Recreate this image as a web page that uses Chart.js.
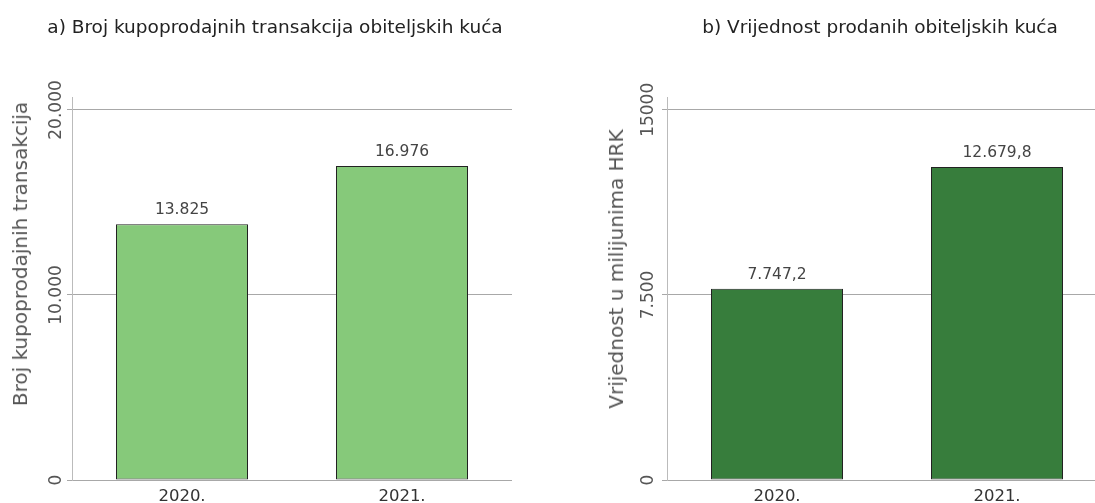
<!DOCTYPE html>
<html>
<head>
<meta charset="utf-8">
<script src="https://cdn.jsdelivr.net/npm/chart.js@4.4.1/dist/chart.umd.min.js"></script>
<style>
  html, body { margin: 0; padding: 0; background: #fff; width: 1095px; height: 503px; overflow: hidden; position: relative; }
  .box { position: absolute; top: 0; height: 520px; }
  .heading { position: absolute; top: 16px; font: 18.5px "DejaVu Sans", sans-serif; color: #222; white-space: nowrap; transform: translateX(-50%); }
  .ytitle { position: absolute; font: 20px "DejaVu Sans", sans-serif; color: #555; white-space: nowrap; transform: translate(-50%, -50%) rotate(-90deg); }
</style>
</head>
<body>
<div class="box" style="left:0;width:548px"><canvas id="countChart"></canvas></div>
<div class="box" style="left:548px;width:580px"><canvas id="valueChart"></canvas></div>
<div class="heading" style="left:275px">a) Broj kupoprodajnih transakcija obiteljskih kuća</div>
<div class="heading" style="left:880px">b) Vrijednost prodanih obiteljskih kuća</div>
<div class="ytitle" style="left:20px;top:254px">Broj kupoprodajnih transakcija</div>
<div class="ytitle" style="left:616px;top:269px">Vrijednost u milijunima HRK</div>
<script>
const years = ['2020.', '2021.'];
const transactions = [13825, 16976];
const valuesHrk = [7747.2, 12679.8];
const countTicks = [0, 10000, 20000];
const countTickLabels = ['0', '10.000', '20.000'];
const valueTicks = [0, 7500, 15000];
const valueTickLabels = ['0', '7.500', '15000'];

function formatHr(v, decimals) {
    const parts = v.toFixed(decimals).split('.');
    parts[0] = parts[0].replace(/\B(?=(\d{3})+(?!\d))/g, '.');
    return parts.join(',');
}

const barLabels = {
    id: 'barLabels',
    afterDatasetsDraw(chart, args, opts) {
        const ctx = chart.ctx;
        const meta = chart.getDatasetMeta(0);
        ctx.save();
        ctx.font = '15.5px "DejaVu Sans", sans-serif';
        ctx.fillStyle = '#444';
        ctx.textAlign = 'center';
        ctx.textBaseline = 'bottom';
        meta.data.forEach((bar, i) => {
            const v = chart.data.datasets[0].data[i];
            ctx.fillText(formatHr(v, opts.decimals), bar.x, bar.y - 6);
        });
        ctx.restore();
    }
};

function makeChart(el, data, color, maxVal, ticks, tickLabels, axisWidth, padRight, tickPad, decimals) {
    return new Chart(el, {
        type: 'bar',
        data: {
            labels: years,
            datasets: [{
                data: data,
                backgroundColor: color,
                borderColor: '#222',
                borderWidth: 1,
                borderSkipped: false,
                categoryPercentage: 1,
                barPercentage: 0.6
            }]
        },
        plugins: [barLabels],
        options: {
            responsive: true,
            maintainAspectRatio: false,
            animation: false,
            layout: { padding: { top: 97, right: padRight, left: 0, bottom: 0 } },
            plugins: {
                legend: { display: false },
                tooltip: { enabled: false },
                barLabels: { decimals: decimals }
            },
            scales: {
                x: {
                    grid: { display: false },
                    border: { display: false },
                    ticks: { color: '#333', font: { family: 'DejaVu Sans', size: 16.5 }, padding: -1 },
                    afterFit(scale) { scale.height = 40; }
                },
                y: {
                    min: 0,
                    max: maxVal,
                    afterBuildTicks(scale) { scale.ticks = ticks.map(v => ({ value: v })); },
                    afterFit(scale) { scale.width = axisWidth; },
                    grid: { color: '#a8a8a8', tickLength: 5 },
                    border: { color: '#bbb' },
                    ticks: {
                        minRotation: 90,
                        maxRotation: 90,
                        crossAlign: 'center',
                        padding: tickPad,
                        color: '#555',
                        font: { family: 'DejaVu Sans', size: 17 },
                        callback: (v) => tickLabels[ticks.indexOf(v)]
                    }
                }
            }
        }
    });
}

makeChart(document.getElementById('countChart'), transactions, '#86c97a', 20700, countTicks, countTickLabels, 72, 36, -19, 0);
makeChart(document.getElementById('valueChart'), valuesHrk, '#377d3c', 15520, valueTicks, valueTickLabels, 119, 21, -14, 1);
</script>
</body>
</html>
